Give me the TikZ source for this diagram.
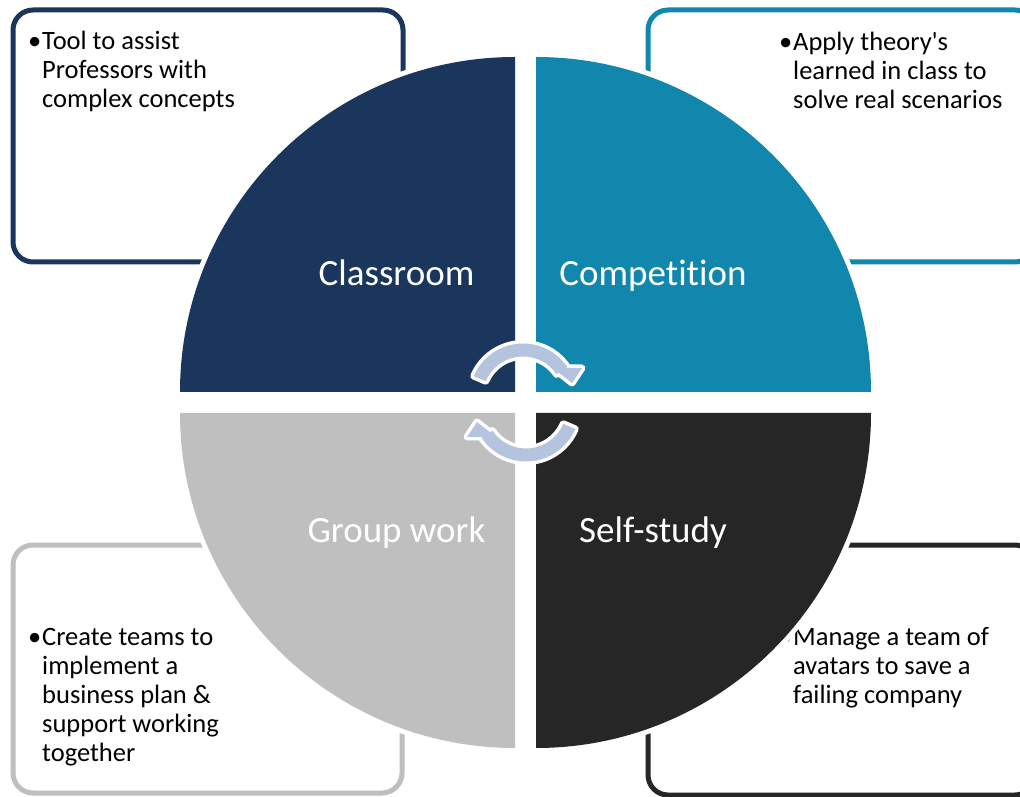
\documentclass[tikz,border=0pt]{standalone}
\usepackage{fontspec}
\setmainfont{Carlito}[Ligatures=NoCommon]
\definecolor{qnavy}{HTML}{1B365D}
\definecolor{qteal}{HTML}{1287AD}
\definecolor{qgray}{HTML}{BFBFBF}
\definecolor{qdark}{HTML}{262626}
\definecolor{arrowblue}{HTML}{B4C4DF}
\begin{document}
\begin{tikzpicture}[x=1pt,y=1pt,
  infobox/.style={line width=5pt, rounded corners=20pt},
  boxtext/.style={anchor=north west, inner sep=0pt, align=left,
    font=\fontsize{26.5}{29}\selectfont, text=black},
  quadrant/.style={preaction={draw=white, line width=10pt}},
  quadlabel/.style={anchor=base, inner sep=0pt, text=white,
    font=\fontsize{37}{44}\selectfont},
  arrowedge/.style={draw=white, line width=7pt, line join=round},
]
\useasboundingbox (0,0) rectangle (1020,796);

% outlined boxes behind the circle
\draw[infobox, qnavy] (13,534) rectangle (403,786);
\draw[infobox, qteal] (648,534) rectangle (1035,786);
\draw[infobox, qgray] (13,3) rectangle (402,251);
\draw[infobox, qdark] (648,1) rectangle (1035,251);

% box texts (first line strut fixes the first baseline 22pt below the top)
\newcommand{\firstline}{\rule{0pt}{22pt}}
\newcommand{\bul}{\llap{•\hspace{1pt}}}
\node[boxtext] (tltext) at (42,769)
  {\firstline\bul Tool to assist\\Professors with\\complex concepts};
\node[boxtext] (trtext) at (793,768)
  {\firstline\bul Apply theory\textquotesingle s\\learned in class to\\solve real scenarios};
\node[boxtext] (bltext) at (42,173)
  {\firstline\bul Create teams to\\implement a\\business plan \&\\support working\\together};
\node[boxtext] (brtext) at (793,173)
  {\firstline\bul Manage a team of\\avatars to save a\\failing company};

% the four quarter discs
\fill[qnavy, quadrant] (515,404) -- (180,404) arc[start angle=180, end angle=90, radius=335] -- cycle;
\fill[qteal, quadrant] (536,404) -- (536,739) arc[start angle=90, end angle=0, radius=335] -- cycle;
\fill[qgray, quadrant] (515,383) -- (515,48) arc[start angle=270, end angle=180, radius=335] -- cycle;
\fill[qdark, quadrant] (536,383) -- (871,383) arc[start angle=0, end angle=-90, radius=335] -- cycle;

% quadrant labels
\node[quadlabel] (classroom) at (396.5,510) {Classroom};
\node[quadlabel] (competition) at (653,510) {Competition};
\node[quadlabel] (groupwork) at (396.5,254) {Group work};
\node[quadlabel] (selfstudy) at (653,254) {Self-study};

% circular arrows in the centre
\newcommand{\topshaft}{(523,399) ++(157:53.5) arc[start angle=157, end angle=34, radius=53.5]
  -- ++(214:13) arc[start angle=34, end angle=157, radius=40.5] -- cycle}
\newcommand{\tophead}{(553,428) -- (582,428) -- (572,413) -- cycle}
\newcommand{\botshaft}{(526,388) ++(337:53.5) arc[start angle=337, end angle=214, radius=53.5]
  -- ++(34:13) arc[start angle=214, end angle=337, radius=40.5] -- cycle}
\newcommand{\bothead}{(496,359) -- (467,359) -- (477,374) -- cycle}
\path[arrowedge] \topshaft;
\path[arrowedge] \tophead;
\path[arrowedge] \botshaft;
\path[arrowedge] \bothead;
\fill[arrowblue] \topshaft;
\fill[arrowblue] \tophead;
\fill[arrowblue] \botshaft;
\fill[arrowblue] \bothead;
\end{tikzpicture}
\end{document}
